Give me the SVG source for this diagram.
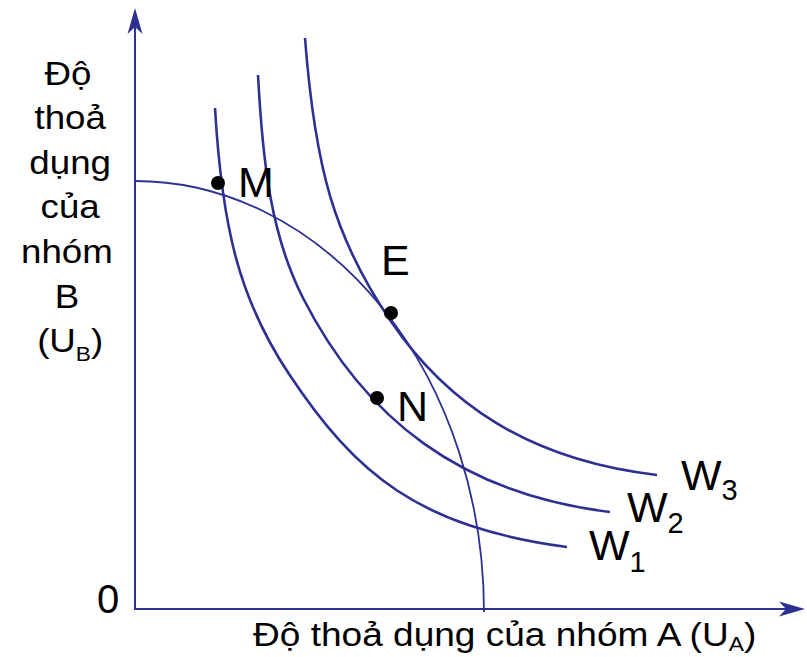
<svg xmlns="http://www.w3.org/2000/svg" width="807" height="657" viewBox="0 0 807 657">
<style>
.ax{stroke:#2E3192;stroke-width:2;fill:none}
.w{stroke:#2E3192;stroke-width:2.6;fill:none;stroke-linecap:butt}
.fr{stroke:#2E3192;stroke-width:1.8;fill:none}
.t{font-family:"Liberation Sans",Arial,sans-serif;fill:#000}
.lab{font-size:34px}
.pt{font-size:43px}
.sub{font-size:29px}
.dot{fill:#000}
</style>
<defs>
<marker id="arr" viewBox="-28 -10 30 20" markerWidth="30" markerHeight="20" refX="-10" refY="0" orient="auto" markerUnits="userSpaceOnUse">
<path d="M0,0 L-26,-7.5 L-19,0 L-26,7.5 Z" fill="#2E3192"/>
</marker>
</defs>
<rect width="807" height="657" fill="#fff"/>
<g id="connectors">
<line id="axis-y" class="ax" x1="135" y1="609" x2="135" y2="18" marker-end="url(#arr)"/>
<line id="axis-x" class="ax" x1="134" y1="609" x2="795" y2="609" marker-end="url(#arr)"/>
<path id="frontier" class="fr" d="M135,181 A349,431 0 0 1 484,612"/>
<path id="W1-curve" class="w" d="M215,108 C222,228 239.2,299 289,374 C355.4,474 418,527 567,547"/>
<path id="W2-curve" class="w" d="M258,75 C262.8,165 271.2,235.6 303,298 C364.3,418.3 461,494 610,512"/>
<path id="W3-curve" class="w" d="M305,38 C315,168 334,237.2 390,320 C446,402.8 528,460 657,475"/>
</g>
<g id="y-label" class="t lab" text-anchor="middle" transform="translate(68,0) scale(1.08,1)">
<text x="0" y="85">Độ</text>
<text x="2" y="129.5">thoả</text>
<text x="2" y="174">dụng</text>
<text x="2" y="218.5">của</text>
<text x="-1" y="263">nhóm</text>
<text x="-1" y="308">B</text>
<text x="2" y="352.5">(U<tspan style="font-size:21px" dy="9">B</tspan><tspan dy="-9">)</tspan></text>
</g>
<g id="x-label" class="t lab" transform="translate(253,0) scale(1.09,1)">
<text x="0" y="646">Độ thoả dụng của nhóm A (U<tspan style="font-size:21px" dy="5">A</tspan><tspan dy="-5">)</tspan></text>
</g>
<g id="origin" class="t">
<text x="97" y="613" style="font-size:40px">0</text>
</g>
<g id="point-M">
<circle class="dot" cx="218" cy="183" r="7"/>
<text class="t pt" x="238" y="197">M</text>
</g>
<g id="point-E">
<circle class="dot" cx="391" cy="313" r="7"/>
<text class="t pt" x="381" y="275">E</text>
</g>
<g id="point-N">
<circle class="dot" cx="377" cy="398" r="7"/>
<text class="t pt" x="397" y="421">N</text>
</g>
<g id="label-W1" class="t pt">
<text x="589" y="560">W<tspan class="sub" dy="12">1</tspan></text>
</g>
<g id="label-W2" class="t pt">
<text x="627" y="522">W<tspan class="sub" dy="11">2</tspan></text>
</g>
<g id="label-W3" class="t pt">
<text x="681" y="490">W<tspan class="sub" dy="10">3</tspan></text>
</g>
</svg>
